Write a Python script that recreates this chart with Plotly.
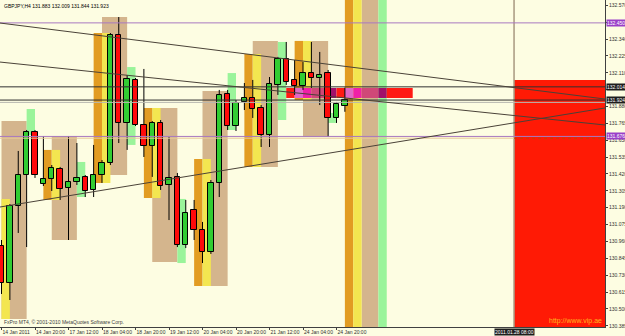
import plotly.graph_objects as go

# ---------------- data ----------------
bar_index = list(range(42))
opens = [130.929, 130.677, 131.202, 131.413, 131.706, 131.352, 131.386, 131.454, 131.325, 131.365,
         131.400, 131.311, 131.413, 131.495, 132.368, 131.768, 132.061, 131.754, 131.611, 131.768,
         131.345, 131.400, 130.936, 131.175, 131.038, 130.888, 131.359, 131.965, 131.747, 131.911,
         131.938, 131.870, 131.686, 132.027, 132.204, 132.061, 132.020, 132.108, 132.074, 132.108,
         131.802, 131.883]
highs = [130.970, 131.215, 131.577, 131.720, 131.720, 131.679, 131.481, 131.468, 131.679, 131.631,
         131.413, 131.618, 131.515, 132.381, 132.490, 132.095, 132.074, 132.136, 131.781, 131.788,
         131.672, 131.427, 131.243, 131.243, 131.093, 131.379, 131.993, 131.993, 131.924, 132.040,
         132.061, 131.890, 132.081, 132.218, 132.320, 132.197, 132.183, 132.320, 132.252, 132.129,
         131.911, 132.009]
lows = [130.602, 130.561, 131.018, 130.922, 131.393, 131.338, 131.304, 131.243, 130.970, 131.345,
        131.263, 131.263, 131.359, 131.481, 131.631, 131.584, 131.747, 131.536, 131.400, 131.311,
        131.106, 130.922, 130.915, 130.970, 130.813, 130.875, 131.263, 131.720, 131.713, 131.856,
        131.802, 131.604, 131.604, 131.959, 132.027, 131.959, 131.993, 132.006, 131.890, 131.672,
        131.768, 131.844]
closes = [130.677, 131.202, 131.413, 131.706, 131.413, 131.386, 131.461, 131.318, 131.365, 131.393,
          131.304, 131.413, 131.495, 132.368, 131.768, 132.068, 131.754, 131.611, 131.768, 131.338,
          131.393, 130.936, 131.154, 131.038, 130.888, 131.359, 131.959, 131.747, 131.904, 131.938,
          131.863, 131.686, 132.034, 132.204, 132.047, 132.020, 132.108, 132.074, 132.095, 131.802,
          131.897, 131.923]

time_tick_index = [0, 4, 8, 12, 16, 20, 24, 28, 32, 36, 40]
time_tick_text = ["14 Jan 2011", "14 Jan 20:00", "17 Jan 12:00", "18 Jan 04:00", "18 Jan 20:00",
                  "19 Jan 12:00", "20 Jan 04:00", "20 Jan 20:00", "21 Jan 12:00", "24 Jan 04:00",
                  "24 Jan 20:00"]
price_ticks = [132.570 - 0.115 * k for k in range(20)]
# labels hidden behind the price-line markers in the original
hidden_price_ticks = ["132.455", "131.995"]
price_tick_text = ["" if ("%.3f" % p) in hidden_price_ticks else "%.3f" % p for p in price_ticks]

x_range = [-0.18, 72.06]
y_range = [130.377, 132.606]

# daily zones: start, end (bar index), top, bottom (price), kind
zone_start = [0, 0, 3,  5, 6, 6, 9,  11, 12, 12, 15,  17, 18, 18, 21,  23, 24, 24, 27,
              29, 30, 30, 33,  35, 36, 36, 39]
zone_end = [3, 1, 4,  6, 9, 7, 10,  12, 15, 13, 16,  18, 21, 19, 22,  24, 27, 25, 28,
            30, 33, 31, 34,  36, 39, 37, 40]
zone_top = [131.781, 131.250, 131.863,
            131.584, 131.679, 131.584, 131.502,
            132.381, 132.490, 132.381, 132.149,
            131.870, 131.870, 131.870, 131.250,
            131.522, 131.986, 131.522, 132.108,
            132.238, 132.327, 132.238, 132.320,
            132.327, 132.327, 132.327, 131.836]
zone_bottom = [130.431, 130.431, 131.686,
               131.243, 130.970, 131.243, 131.263,
               131.359, 131.413, 131.359, 131.618,
               131.256, 130.820, 131.256, 130.813,
               130.656, 130.656, 130.656, 131.720,
               131.468, 131.468, 131.468, 131.788,
               131.924, 131.672, 131.924, 131.768]
zone_kind = ["tan", "yellow", "green",
             "orange", "tan", "yellow", "green",
             "orange", "tan", "yellow", "green",
             "orange", "tan", "yellow", "green",
             "orange", "tan", "yellow", "green",
             "orange", "tan", "yellow", "green",
             "orange", "tan", "yellow", "green"]
# current-day zone spanning the full height
today_start = [41, 43, 42, 45]
today_end = [42, 45, 43, 46]
today_kind = ["orange", "tan", "yellow", "green"]

# horizontal band segments
band_start = [34, 35, 36, 37, 39, 40, 41, 42, 43, 45, 46]
band_end = [35, 36, 37, 39, 40, 41, 42, 43, 45, 46, 49.1]
band_kind = ["red", "pink", "magenta", "crimson", "dark", "red", "pink", "magenta", "crimson", "dark", "red"]
band_top = 132.006
band_bottom = 131.938

# big red box and vertical line
red_box_start = 61.2
red_box_top = 132.061
vline_index = 61.2
vline_label = "2011.01.28 08:00"

# trend lines (x0, price0, x1, price1)
trend_x0 = [-0.18, -0.18, -0.18]
trend_p0 = [132.449, 132.183, 131.195]
trend_x1 = [72.06, 72.06, 72.06]
trend_p1 = [131.931, 131.754, 131.870]

# horizontal levels
level_price = [132.450, 132.014, 131.924, 131.676]
level_label = ["132.450", "132.014", "131.924", "131.676"]
level_kind = ["purple", "black", "black", "purple"]

title_text = "GBPJPY,H4 131.883 132.009 131.844 131.923"
copyright_text = "FxPro MT4, \u00a9 2001-2010 MetaQuotes Software Corp."
url_text = "http://www.vip.ae"

# ---------------- styles ----------------
BG = "#FDFDE2"
zone_colors = {"tan": "#D4B58D", "yellow": "#F3E650", "green": "#9AF49A", "orange": "#E29C22"}
band_colors = {"red": "#FF1A14", "pink": "#E068C8", "magenta": "#F020A8", "crimson": "#D04878", "dark": "#A0106A"}
level_colors = {"purple": "#A878C0", "black": "#303030"}
label_bg = {"purple": "#9A3FC8", "black": "#1E1E1E"}
FONT = "Liberation Sans"

fig = go.Figure()

shapes = []
for s, e, t, b, k in zip(zone_start, zone_end, zone_top, zone_bottom, zone_kind):
    shapes.append(dict(type="rect", xref="x", yref="y", x0=s, x1=e, y0=b, y1=t,
                       fillcolor=zone_colors[k], line_width=0, layer="below"))
for s, e, k in zip(today_start, today_end, today_kind):
    shapes.append(dict(type="rect", xref="x", yref="y", x0=s, x1=e, y0=y_range[0], y1=y_range[1],
                       fillcolor=zone_colors[k], line_width=0, layer="below"))
shapes.append(dict(type="rect", xref="x", yref="y", x0=red_box_start, x1=x_range[1],
                   y0=y_range[0], y1=red_box_top, fillcolor="#FF1A05", line_width=0, layer="below"))
for s, e, k in zip(band_start, band_end, band_kind):
    shapes.append(dict(type="rect", xref="x", yref="y", x0=s, x1=e, y0=band_bottom, y1=band_top,
                       fillcolor=band_colors[k], line_width=0, layer="below"))

shapes.append(dict(type="line", xref="x", yref="y", x0=vline_index, x1=vline_index,
                   y0=y_range[0], y1=y_range[1], line=dict(color="#A89880", width=1.5), layer="above"))
for p, k in zip(level_price, level_kind):
    shapes.append(dict(type="line", xref="x", yref="y", x0=x_range[0], x1=x_range[1], y0=p, y1=p,
                       line=dict(color=level_colors[k], width=1), layer="above"))
shapes.append(dict(type="line", xref="x", yref="y", x0=x_range[0], x1=red_box_start,
                   y0=level_price[3] - 0.012, y1=level_price[3] - 0.012,
                   line=dict(color="#E6C898", width=1), layer="above"))
shapes.append(dict(type="line", xref="x", yref="y", x0=red_box_start, x1=x_range[1],
                   y0=level_price[3] - 0.012, y1=level_price[3] - 0.012,
                   line=dict(color="#C04000", width=1, dash="dot"), layer="above"))
shapes.append(dict(type="line", xref="x", yref="y", x0=x_range[0], x1=x_range[1],
                   y0=level_price[2] - 0.016, y1=level_price[2] - 0.016,
                   line=dict(color="#B8B8B0", width=1), layer="above"))
for x0, p0, x1, p1 in zip(trend_x0, trend_p0, trend_x1, trend_p1):
    shapes.append(dict(type="line", xref="x", yref="y", x0=x0, x1=x1, y0=p0, y1=p1,
                       line=dict(color="#4A4238", width=1), layer="above"))

# candles: bodies as bars, wicks as segments outside the body
body_base = [min(o, c) for o, c in zip(opens, closes)]
body_h = [max(abs(c - o), 0.004) for o, c in zip(opens, closes)]
body_col = ["#32CD32" if c >= o else "#FF0A0A" for o, c in zip(opens, closes)]

wx, wy = [], []
for i, o, h, l, c in zip(bar_index, opens, highs, lows, closes):
    top, bot = max(o, c), min(o, c)
    if h > top:
        wx += [i, i, None]; wy += [h, top, None]
    if l < bot:
        wx += [i, i, None]; wy += [bot, l, None]

fig.add_trace(go.Bar(x=bar_index, y=body_h, base=body_base, width=0.64,
                     marker=dict(color=body_col, line=dict(color="#000000", width=1)),
                     hoverinfo="skip", showlegend=False))
fig.add_trace(go.Scatter(x=wx, y=wy, mode="lines", line=dict(color="#000000", width=1),
                         hoverinfo="skip", showlegend=False))

annotations = []
for p, t, k in zip(level_price, level_label, level_kind):
    annotations.append(dict(xref="paper", yref="y", x=1, y=p, xanchor="left", yanchor="middle",
                            xshift=1, text=t, showarrow=False, bgcolor=label_bg[k], borderpad=0,
                            font=dict(family=FONT, size=5, color="#FFFFFF")))
annotations.append(dict(xref="x", yref="paper", x=vline_index, y=0, xanchor="center", yanchor="top",
                        yshift=-1, text=vline_label, showarrow=False, bgcolor="#1E1E1E", borderpad=0,
                        font=dict(family=FONT, size=5, color="#FFFFFF")))
annotations.append(dict(xref="paper", yref="paper", x=0.004, y=1, xanchor="left", yanchor="top",
                        yshift=-1, text=title_text, showarrow=False,
                        font=dict(family=FONT, size=5, color="#000000")))
annotations.append(dict(xref="paper", yref="paper", x=0.004, y=0, xanchor="left", yanchor="bottom",
                        yshift=0, text=copyright_text, showarrow=False,
                        font=dict(family=FONT, size=5, color="#404040")))
annotations.append(dict(xref="paper", yref="paper", x=0.998, y=0, xanchor="right", yanchor="bottom",
                        yshift=0, text=url_text, showarrow=False,
                        font=dict(family=FONT, size=7, color="#FFB41E")))

fig.update_layout(
    width=625, height=336,
    margin=dict(l=0, r=20, t=0, b=9),
    paper_bgcolor=BG, plot_bgcolor=BG,
    shapes=shapes, annotations=annotations,
    showlegend=False, bargap=0,
    xaxis=dict(range=x_range, showgrid=False, zeroline=False, showline=True, linecolor="#404040",
               linewidth=1, mirror=True, ticks="outside", ticklen=2, tickcolor="#404040",
               tickvals=time_tick_index, ticktext=time_tick_text, tickangle=0,
               ticklabelposition="outside right", ticklabelstandoff=0,
               tickfont=dict(family=FONT, size=5, color="#303030"),
               automargin=False, fixedrange=True),
    yaxis=dict(range=y_range, side="right", showgrid=False, zeroline=False, showline=True,
               linecolor="#404040", linewidth=1, mirror=True, ticks="outside", ticklen=2,
               ticklabelstandoff=0,
               tickcolor="#404040", tickvals=price_ticks, ticktext=price_tick_text,
               tickfont=dict(family=FONT, size=5, color="#303030"),
               automargin=False, fixedrange=True),
)

fig.write_html("out.html")
